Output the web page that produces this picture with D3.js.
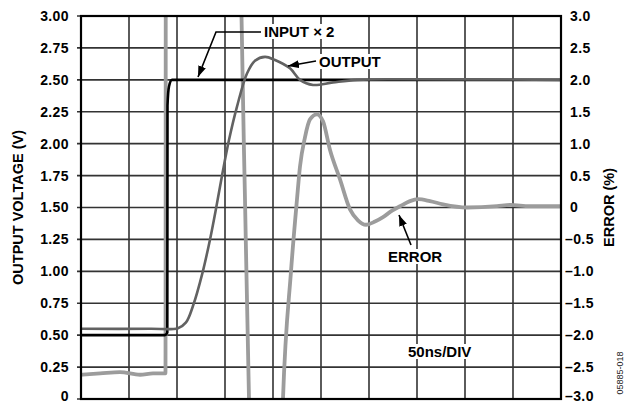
<!DOCTYPE html>
<html>
<head>
<meta charset="utf-8">
<script src="https://cdn.jsdelivr.net/npm/d3@7"></script>
<style>
    body { margin: 0; background: #fff; }
    svg { display: block; }
    text { font-family: "Liberation Sans", Arial, sans-serif; }
</style>
</head>
<body>
<div class="scope"></div>
<script>
const W = 627;
const H = 404;
const margin = { top: 16, bottom: 5, left: 81, right: 66 };

// time axis, 50ns/div, 10 divisions
const time_ticks = [0, 50, 100, 150, 200, 250, 300, 350, 400, 450, 500];

// left axis (V) and right axis (%)
const volt_ticks = [0, 0.25, 0.5, 0.75, 1, 1.25, 1.5, 1.75, 2, 2.25, 2.5, 2.75, 3];
const volt_labels = ["0", "0.25", "0.50", "0.75", "1.00", "1.25", "1.50", "1.75", "2.00", "2.25", "2.50", "2.75", "3.00"];
const err_ticks = [-3, -2.5, -2, -1.5, -1, -0.5, 0, 0.5, 1, 1.5, 2, 2.5, 3];
const err_labels = ["\u20133.0", "\u20132.5", "\u20132.0", "\u20131.5", "\u20131.0", "\u20130.5", "0", "0.5", "1.0", "1.5", "2.0", "2.5", "3.0"];

// INPUT x 2 trace (ns, V)
const input_t = [0, 87, 89.9, 90.1, 91.7, 94.8, 500];
const input_v = [0.5, 0.5, 0.52, 2.3, 2.45, 2.5, 2.5];

// OUTPUT trace (ns, V)
const output_t = [0, 72, 101, 109.4, 116.7, 126.6, 134.4, 141.1, 147.4, 154.2, 162.5, 172.9, 181.3, 191.7, 202.1, 217.7, 228.1, 241.7, 262.5, 287.5, 332.3, 500];
const output_v = [0.55, 0.55, 0.555, 0.6, 0.73, 0.99, 1.25, 1.51, 1.77, 2.03, 2.29, 2.55, 2.65, 2.68, 2.655, 2.59, 2.5, 2.46, 2.48, 2.5, 2.505, 2.5];

// ERROR trace (ns, %) - goes off scale during the edge
const error_t = [0, 20, 40.6, 61.5, 75, 88.0, 88.4, 165.6, 167.2, 170.8, 175, 176.6, 208.3, 210.4, 218.75, 225, 228.1, 233.3, 238.5, 245.8, 252.1, 259.4, 269.8, 280.2, 288.5, 296.9, 306.25, 314.6, 324, 332.3, 342.7, 351, 363.5, 377.1, 402, 433.3, 446.9, 467.7, 500];
const error_v = [-2.62, -2.6, -2.58, -2.62, -2.6, -2.6, 5, 5, 3.0, 0.15, -3.0, -4, -4, -3.0, -1.0, 0.13, 0.64, 1.1, 1.38, 1.46, 1.35, 0.9, 0.44, -0.03, -0.2, -0.27, -0.22, -0.15, -0.05, 0.02, 0.1, 0.13, 0.1, 0.05, 0.0, 0.02, 0.04, 0.02, 0.02];

const svg = d3.select(".scope")
    .append("svg")
    .attr("width", W)
    .attr("height", H);

const x_scale = d3.scaleLinear()
    .domain([0, 500])
    .range([margin.left, W - margin.right]);

const y_volt = d3.scaleLinear()
    .domain([0, 3])
    .range([H - margin.bottom, margin.top]);

const y_err = d3.scaleLinear()
    .domain([-3, 3])
    .range([H - margin.bottom, margin.top]);

svg.append("clipPath")
    .attr("id", "plot_clip")
    .append("rect")
    .attr("x", margin.left)
    .attr("y", margin.top)
    .attr("width", W - margin.left - margin.right)
    .attr("height", H - margin.top - margin.bottom);

/* GRID */
svg.append("g")
    .selectAll("line")
    .data(time_ticks)
    .enter()
    .append("line")
    .attr("x1", function(d) { return x_scale(d); })
    .attr("x2", function(d) { return x_scale(d); })
    .attr("y1", margin.top)
    .attr("y2", H - margin.bottom)
    .attr("stroke", "#333")
    .attr("stroke-width", 1.6);

svg.append("g")
    .selectAll("line")
    .data(volt_ticks)
    .enter()
    .append("line")
    .attr("x1", margin.left - 4)
    .attr("x2", W - margin.right)
    .attr("y1", function(d) { return y_volt(d); })
    .attr("y2", function(d) { return y_volt(d); })
    .attr("stroke", "#333")
    .attr("stroke-width", 1.6);

/* AXES (labels only) */
const left_axis = svg.append("g")
    .attr("transform", "translate(" + (margin.left - 9) + ",0)")
    .call(d3.axisLeft(y_volt)
        .tickValues(volt_ticks)
        .tickSize(0)
        .tickFormat(function(d, i) { return volt_labels[i]; }));

const right_axis = svg.append("g")
    .attr("transform", "translate(" + (W - margin.right + 9) + ",0)")
    .call(d3.axisRight(y_err)
        .tickValues(err_ticks)
        .tickSize(0)
        .tickFormat(function(d, i) { return err_labels[i]; }));

[left_axis, right_axis].forEach(function(a) {
    a.select(".domain").remove();
    a.selectAll("text")
        .attr("font-family", "Liberation Sans, Arial, sans-serif")
        .attr("font-size", 14)
        .attr("font-weight", "bold")
        .attr("letter-spacing", 0.4)
        .attr("fill", "#000");
});

// minus labels hang a little to the left
right_axis.selectAll("text")
    .attr("x", function(d) { return d < 0 ? -5 : 0; });

// bottom labels sit a touch higher so they are not cut by the window
left_axis.selectAll("text")
    .attr("y", function(d) { return d === 0 ? -3 : 0; });
right_axis.selectAll("text")
    .attr("y", function(d) { return d === -3 ? -3 : 0; });

/* TRACES */
const line_gen = d3.line()
    .x(function(d) { return x_scale(d[0]); })
    .y(function(d) { return d[1]; })
    .curve(d3.curveMonotoneX);

const traces = svg.append("g").attr("clip-path", "url(#plot_clip)");

traces.append("path")
    .attr("d", line_gen(error_t.map(function(t, i) { return [t, y_err(error_v[i])]; })))
    .attr("fill", "none")
    .attr("stroke", "#9c9c9c")
    .attr("stroke-width", 3.8)
    .attr("stroke-linejoin", "round");

traces.append("path")
    .attr("d", line_gen(input_t.map(function(t, i) { return [t, y_volt(input_v[i])]; })))
    .attr("fill", "none")
    .attr("stroke", "#000")
    .attr("stroke-width", 2.6);

traces.append("path")
    .attr("d", line_gen.curve(d3.curveCatmullRom.alpha(0.5))(output_t.map(function(t, i) { return [t, y_volt(output_v[i])]; })))
    .attr("fill", "none")
    .attr("stroke", "#626262")
    .attr("stroke-width", 2.6);

// frame
svg.append("rect")
    .attr("x", margin.left)
    .attr("y", margin.top)
    .attr("width", W - margin.left - margin.right)
    .attr("height", H - margin.top - margin.bottom)
    .attr("fill", "none")
    .attr("stroke", "#000")
    .attr("stroke-width", 2.2);

/* ANNOTATIONS */
svg.append("defs")
    .append("marker")
    .attr("id", "head")
    .attr("viewBox", "0 0 10 10")
    .attr("refX", 10)
    .attr("refY", 5)
    .attr("markerWidth", 11)
    .attr("markerHeight", 8)
    .attr("markerUnits", "userSpaceOnUse")
    .attr("orient", "auto")
    .attr("preserveAspectRatio", "none")
    .append("path")
    .attr("d", "M0,0 L10,5 L0,10 z")
    .attr("fill", "#000");

function label(txt, x, y) {
    const t = svg.append("text")
        .attr("x", x)
        .attr("y", y)
        .attr("font-size", 15)
        .attr("font-weight", "bold")
        .attr("fill", "#000")
        .text(txt);
    const b = t.node().getBBox();
    svg.insert("rect", function() { return t.node(); })
        .attr("x", b.x - 2)
        .attr("y", b.y + 1)
        .attr("width", b.width + 4)
        .attr("height", b.height - 2)
        .attr("fill", "#fff");
}

function arrow(points) {
    svg.append("path")
        .attr("d", d3.line()(points))
        .attr("fill", "none")
        .attr("stroke", "#000")
        .attr("stroke-width", 1.6)
        .attr("marker-end", "url(#head)");
}

label("INPUT \u00d7 2", 264, 37);
arrow([[261, 32], [216, 32], [198, 77]]);

label("OUTPUT", 319, 67);
arrow([[316, 61], [288, 66]]);

label("ERROR", 388, 262);
arrow([[411, 245], [399, 215]]);

label("50ns/DIV", 408, 357);

// axis titles
svg.append("text")
    .attr("transform", "translate(23," + ((margin.top + H - margin.bottom) / 2) + ") rotate(-90)")
    .attr("text-anchor", "middle")
    .attr("font-size", 14.5)
    .attr("font-weight", "bold")
    .text("OUTPUT VOLTAGE (V)");

svg.append("text")
    .attr("transform", "translate(614," + ((margin.top + H - margin.bottom) / 2) + ") rotate(-90)")
    .attr("text-anchor", "middle")
    .attr("font-size", 14.5)
    .attr("font-weight", "bold")
    .text("ERROR (%)");

svg.append("text")
    .attr("transform", "translate(623,373) rotate(-90)")
    .attr("text-anchor", "middle")
    .attr("font-size", 9)
    .attr("fill", "#222")
    .text("05885-018");
</script>
</body>
</html>
